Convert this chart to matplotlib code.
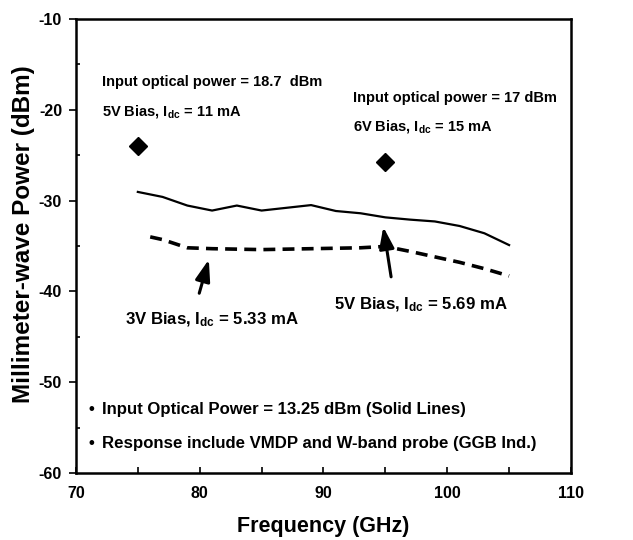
import matplotlib
matplotlib.use("Agg")
import matplotlib.pyplot as plt
from matplotlib.ticker import MultipleLocator

plt.rcParams['font.family'] = 'Liberation Sans'
plt.rcParams['font.weight'] = 'bold'
plt.rcParams['axes.labelweight'] = 'bold'
plt.rcParams['axes.unicode_minus'] = False
plt.rcParams['mathtext.fontset'] = 'custom'
plt.rcParams['mathtext.rm'] = 'Liberation Sans:bold'
plt.rcParams['mathtext.default'] = 'rm'

# solid line: 5V bias, 13.25 dBm optical input
freq_solid = [75, 77, 79, 81, 83, 85, 87, 89, 91, 93, 95, 97, 99, 101, 103, 105]
power_solid = [-29.05, -29.6, -30.55, -31.1, -30.55, -31.1, -30.8, -30.5,
               -31.15, -31.4, -31.85, -32.1, -32.3, -32.8, -33.6, -34.9]

# dashed line: 3V bias
freq_dash = [76, 77, 79, 81, 83, 85, 87, 89, 91, 93, 95, 97, 99, 101, 103, 105]
power_dash = [-34.0, -34.3, -35.2, -35.3, -35.35, -35.4, -35.35, -35.3,
              -35.25, -35.2, -35.05, -35.6, -36.2, -36.8, -37.5, -38.3]

# high optical power points
freq_pts = [75, 95]
power_pts = [-24.0, -25.8]

fig = plt.figure(figsize=(6.33, 5.4), dpi=100)
ax = fig.add_axes([0.120, 0.124, 0.782, 0.841])

ax.plot(freq_solid, power_solid, color='black', lw=1.6)
ax.plot(freq_dash, power_dash, color='black', lw=2.6, dashes=(3.3, 2.0))
ax.plot(freq_pts, power_pts, 'D', color='black', markersize=9)

ax.set_xlim(70, 110)
ax.set_ylim(-60, -10)
ax.xaxis.set_major_locator(MultipleLocator(10))
ax.xaxis.set_minor_locator(MultipleLocator(5))
ax.yaxis.set_major_locator(MultipleLocator(10))
ax.yaxis.set_minor_locator(MultipleLocator(5))
ax.tick_params(axis='x', which='both', direction='in', length=4, width=1.2,
               labelsize=11.5, pad=9)
ax.tick_params(axis='y', which='major', direction='out', length=5, width=1.2,
               labelsize=11.5, pad=5)
ax.tick_params(axis='y', which='minor', direction='in', length=3, width=1.2)
for s in ax.spines.values():
    s.set_linewidth(1.8)

ax.set_xlabel('Frequency (GHz)', fontsize=15.5, labelpad=11)
ax.set_ylabel('Millimeter-wave Power (dBm)', fontsize=17.5)
ax.yaxis.set_label_coords(-0.082, 0.527)

fs_top = 10.5
fs_low = 12.1
ax.text(72.1, -16.9, 'Input optical power = 18.7  dBm', fontsize=fs_top, va='center')
ax.text(72.1, -20.2, '5V Bias, I$_{dc}$ = 11 mA', fontsize=fs_top, va='center')
ax.text(92.35, -18.7, 'Input optical power = 17 dBm', fontsize=fs_top, va='center')
ax.text(92.35, -21.85, '6V Bias, I$_{dc}$ = 15 mA', fontsize=fs_top, va='center')
ax.text(90.85, -41.5, '5V Bias, I$_{dc}$ = 5.69 mA', fontsize=fs_low, va='center')
ax.text(74.0, -43.15, '3V Bias, I$_{dc}$ = 5.33 mA', fontsize=fs_low, va='center')
ax.text(71.0, -53.05, '\u2022', fontsize=fs_low, va='center')
ax.text(72.1, -53.05, 'Input Optical Power = 13.25 dBm (Solid Lines)', fontsize=fs_low, va='center')
ax.text(71.0, -56.7, '\u2022', fontsize=fs_low, va='center')
ax.text(72.1, -56.7, 'Response include VMDP and W-band probe (GGB Ind.)', fontsize=fs_low, va='center')

arrow = dict(arrowstyle='-|>,head_length=1.3,head_width=0.45', color='black', lw=2.2)
ax.annotate('', xy=(80.8, -36.2), xytext=(79.9, -40.5), arrowprops=arrow)
ax.annotate('', xy=(94.8, -32.6), xytext=(95.5, -38.7), arrowprops=arrow)

fig.savefig('out.png', dpi=100)
